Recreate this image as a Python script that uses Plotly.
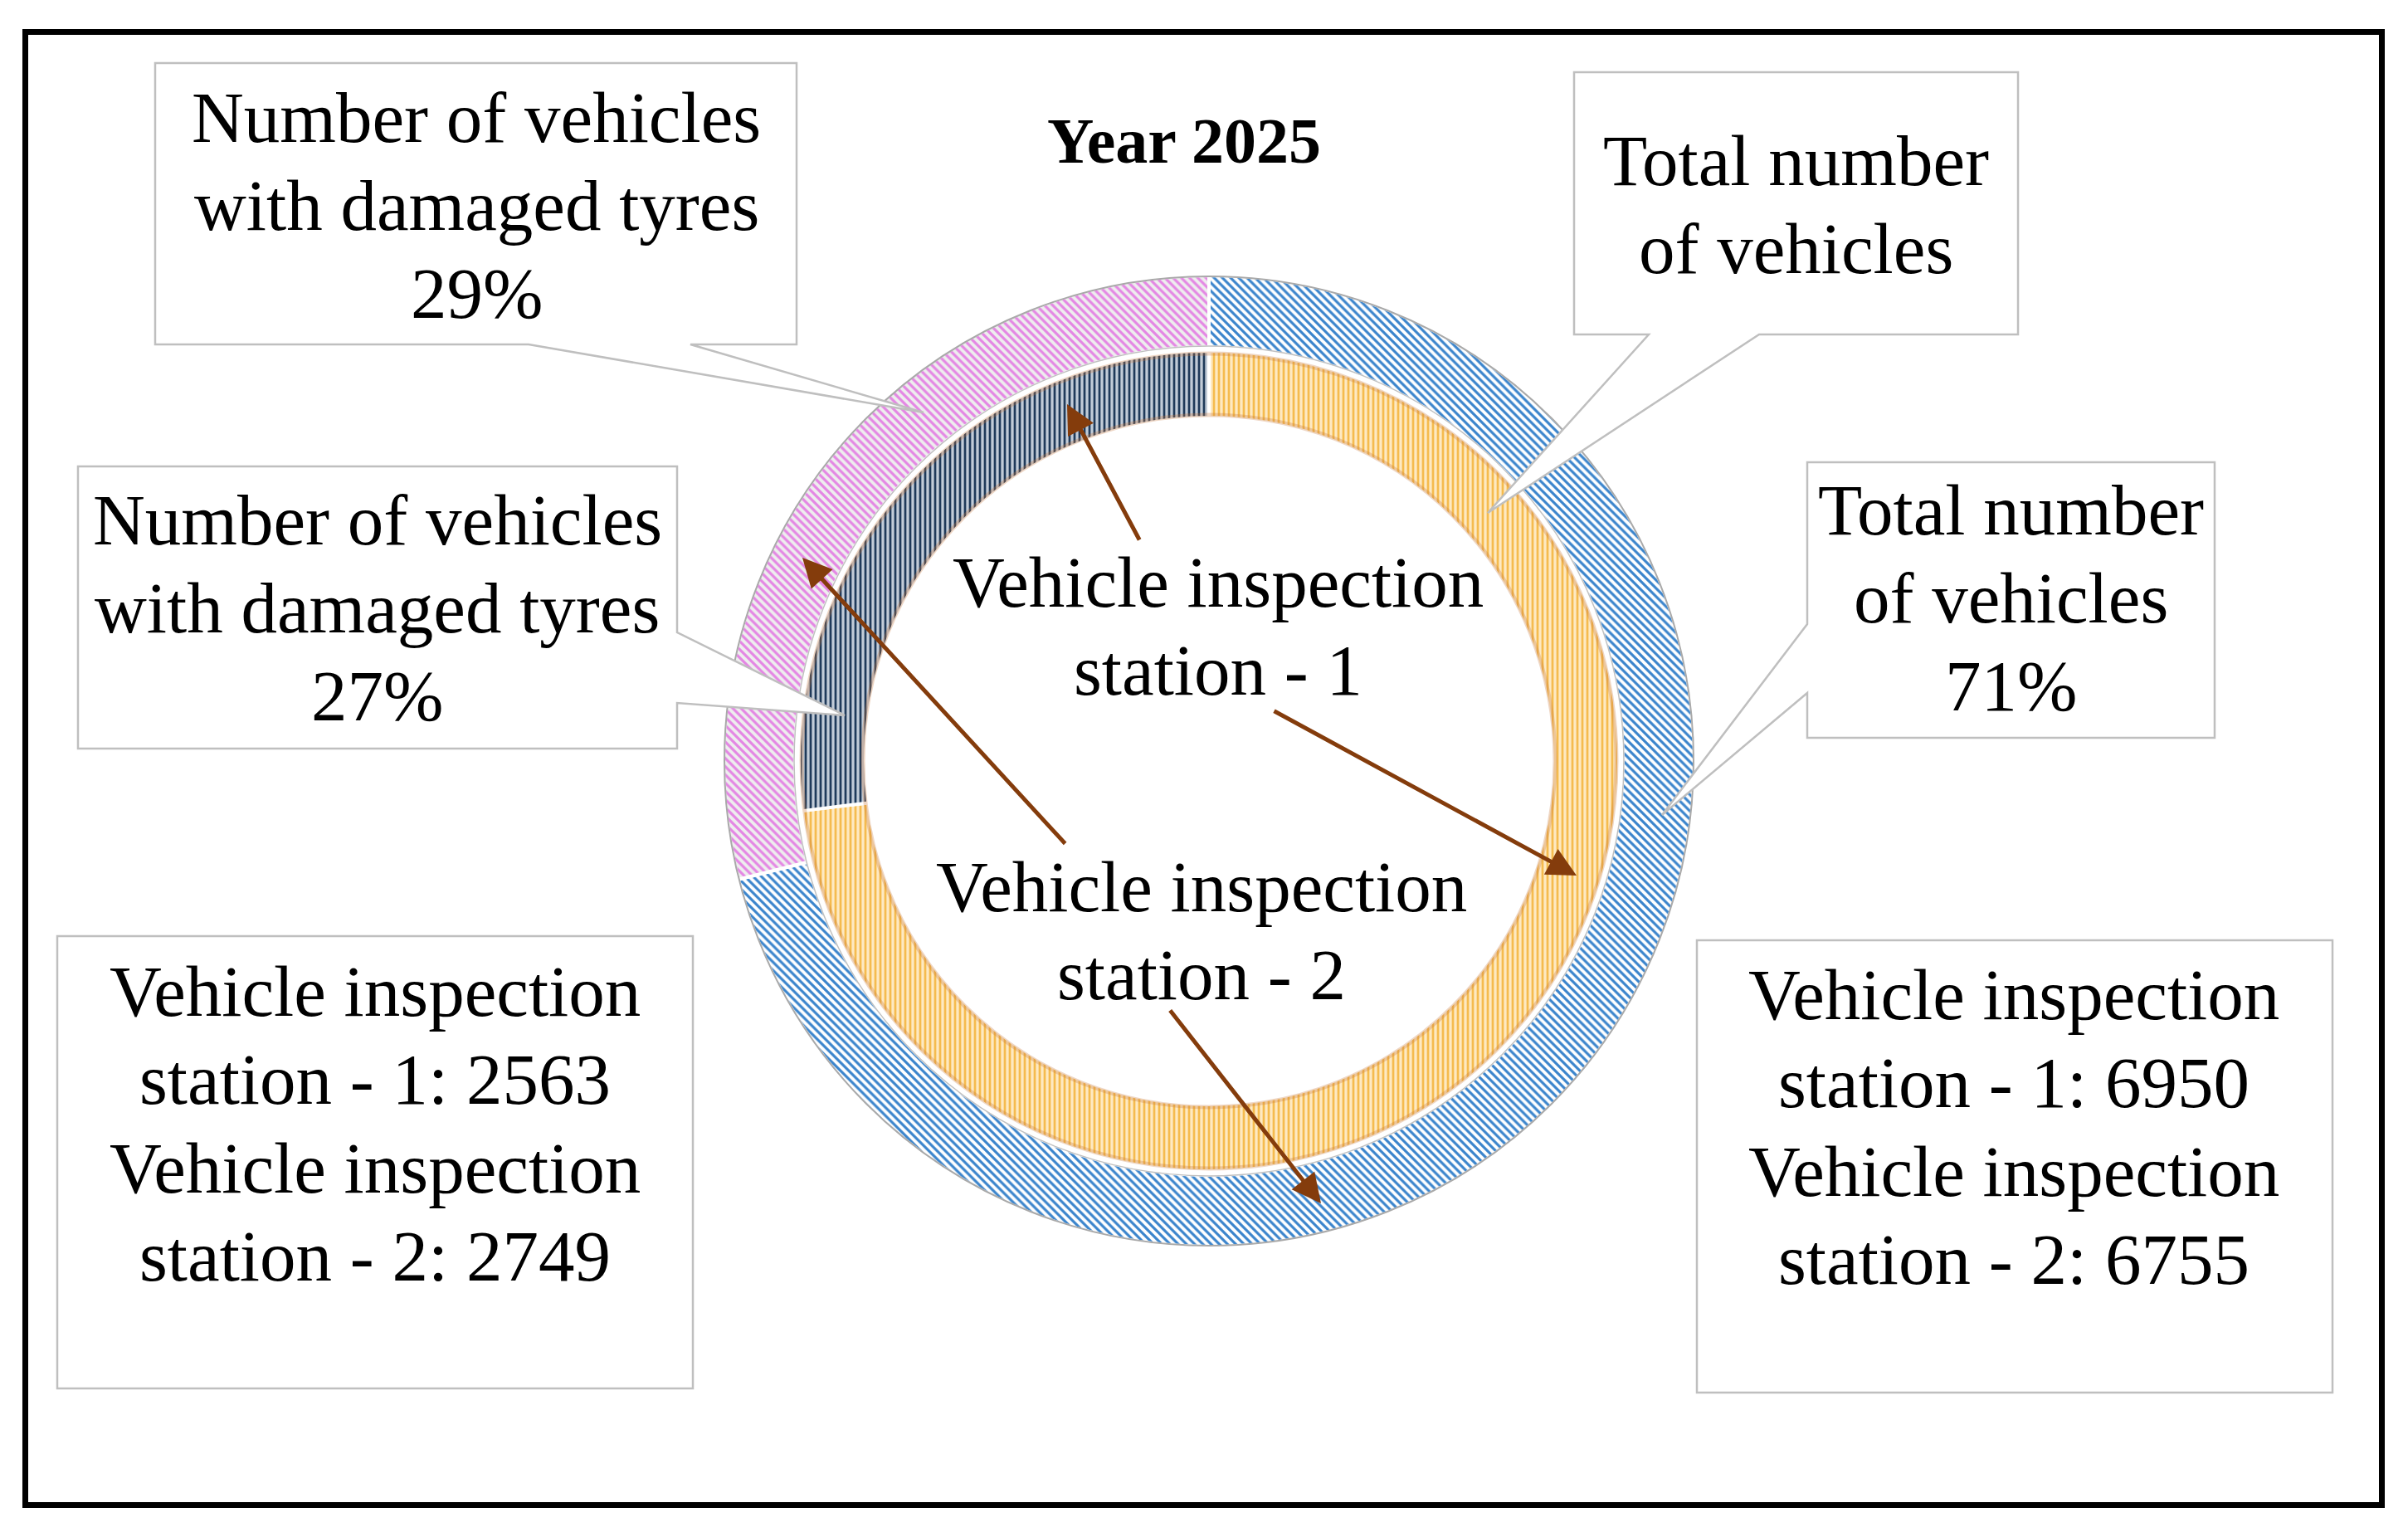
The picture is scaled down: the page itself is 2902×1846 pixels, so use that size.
import plotly.graph_objects as go

# ---------------- data ----------------
stations = ["Vehicle inspection station - 1", "Vehicle inspection station - 2"]
categories = ["Total number of vehicles", "Number of vehicles with damaged tyres"]
total_vehicles = [6950, 6755]
damaged_vehicles = [2563, 2749]
title_text = "Year 2025"

W, H = 2902, 1846
OFF = 8  # default page margin of the html body
FONT = "Liberation Serif"
FS = 87


def px(x):
    return (x - OFF) / W


def py(y):
    return 1 - (y - OFF) / H


def pct(a, b):
    return round(100 * a / (a + b))


fig = go.Figure()

# ring geometry (pixels)
CX, CY = 1457, 917
R_OUT, R_OUT_IN = 585, 499
R_IN, R_IN_IN = 494, 414

# outer ring: station 2
fig.add_trace(go.Pie(
    labels=categories,
    values=[total_vehicles[1], damaged_vehicles[1]],
    name=stations[1],
    sort=False, direction="clockwise", rotation=0,
    hole=R_OUT_IN / R_OUT,
    textinfo="none", hoverinfo="label+value+percent",
    domain=dict(x=[px(CX - R_OUT), px(CX + R_OUT)], y=[py(CY + R_OUT), py(CY - R_OUT)]),
    marker=dict(
        colors=["#ffffff", "#f2f2f2"],
        line=dict(color="white", width=4),
        pattern=dict(shape=["\\", "\\"], fgcolor=["#3a84cc", "#e486e4"],
                     bgcolor=["#ffffff", "#eeeeee"], size=7, solidity=0.45,
                     fillmode="replace"),
    ),
    showlegend=False,
))

# inner ring: station 1
fig.add_trace(go.Pie(
    labels=categories,
    values=[total_vehicles[0], damaged_vehicles[0]],
    name=stations[0],
    sort=False, direction="clockwise", rotation=0,
    hole=R_IN_IN / R_IN,
    textinfo="none", hoverinfo="label+value+percent",
    domain=dict(x=[px(CX - R_IN), px(CX + R_IN)], y=[py(CY + R_IN), py(CY - R_IN)]),
    marker=dict(
        colors=["#fde6b8", "#b6c2d0"],
        line=dict(color="white", width=4),
        pattern=dict(shape=["|", "|"], fgcolor=["#f5bb4e", "#1f3a5a"],
                     bgcolor=["#fee9c2", "#c2ccd8"], size=6, solidity=0.45,
                     fillmode="replace"),
    ),
    showlegend=False,
))

shapes = []


def circle(r, color, width):
    shapes.append(dict(type="circle", xref="paper", yref="paper",
                       x0=px(CX - r), x1=px(CX + r), y0=py(CY + r), y1=py(CY - r),
                       line=dict(color=color, width=width), layer="above"))


# soft edges of the rings
circle(R_OUT - 1, "#a9a9a9", 2)
circle(R_OUT_IN + 1, "rgba(150,150,150,0.6)", 1.5)
circle(R_IN - 3, "rgba(200,120,60,0.3)", 5)
circle(R_IN_IN + 3, "rgba(200,120,60,0.3)", 5)


def poly(points):
    path = "M " + " L ".join(f"{px(x):.5f},{py(y):.5f}" for x, y in points) + " Z"
    shapes.append(dict(type="path", xref="paper", yref="paper", path=path,
                       fillcolor="white", line=dict(color="#bfbfbf", width=2.5),
                       layer="above"))


# callout boxes
poly([(187, 76), (960, 76), (960, 415), (832, 415), (1113, 497), (637, 415), (187, 415)])
poly([(94, 562), (816, 562), (816, 762), (1018, 862), (816, 847), (816, 902), (94, 902)])
poly([(1897, 87), (2432, 87), (2432, 403), (2120, 403), (1793, 618), (1987, 403), (1897, 403)])
poly([(2178, 557), (2669, 557), (2669, 889), (2178, 889), (2178, 835), (2003, 982), (2178, 752)])
poly([(69, 1128), (835, 1128), (835, 1673), (69, 1673)])
poly([(2045, 1133), (2811, 1133), (2811, 1678), (2045, 1678)])

# outer frame
shapes.append(dict(type="rect", xref="paper", yref="paper",
                   x0=px(30.5), x1=px(2870.5), y0=py(1813.5), y1=py(38.5),
                   line=dict(color="black", width=7), layer="above"))

annotations = []


def text_lines(cx, baselines, lines, size=FS, bold=False):
    for b, t in zip(baselines, lines):
        annotations.append(dict(
            x=px(cx), y=py(b - 0.3375 * size), xref="paper", yref="paper",
            text=f"<b>{t}</b>" if bold else t, showarrow=False,
            xanchor="center", yanchor="middle",
            font=dict(family=FONT, size=size, color="black")))


p_dam_2 = pct(damaged_vehicles[1], total_vehicles[1])
p_dam_1 = pct(damaged_vehicles[0], total_vehicles[0])
p_tot_2 = pct(total_vehicles[1], damaged_vehicles[1])

text_lines(1427, [196], [title_text], size=78, bold=True)
text_lines(574, [171, 277, 383], ["Number of vehicles", "with damaged tyres", f"{p_dam_2}%"])
text_lines(455, [656, 762, 868], ["Number of vehicles", "with damaged tyres", f"{p_dam_1}%"])
text_lines(2164, [223, 329], ["Total number", "of vehicles"])
text_lines(2423, [644, 750, 856], ["Total number", "of vehicles", f"{p_tot_2}%"])
text_lines(452, [1224, 1330, 1437, 1543],
           ["Vehicle inspection", f"station - 1: {damaged_vehicles[0]}",
            "Vehicle inspection", f"station - 2: {damaged_vehicles[1]}"])
text_lines(2427, [1228, 1334, 1441, 1547],
           ["Vehicle inspection", f"station - 1: {total_vehicles[0]}",
            "Vehicle inspection", f"station - 2: {total_vehicles[1]}"])
text_lines(1468, [731, 837], ["Vehicle inspection", "station - 1"])
text_lines(1448, [1098, 1204], ["Vehicle inspection", "station - 2"])


def arrow(tail, tip):
    annotations.append(dict(
        x=px(tip[0]), y=py(tip[1]), xref="paper", yref="paper",
        ax=tail[0] - tip[0], ay=tail[1] - tip[1], axref="pixel", ayref="pixel",
        text="", showarrow=True, arrowhead=2, arrowsize=1.4, arrowwidth=5,
        arrowcolor="#843c0c", standoff=0, startstandoff=0))


arrow((1374, 652), (1286, 487))
arrow((1534, 856), (1900, 1055))
arrow((1285, 1018), (967, 672))
arrow((1409, 1216), (1592, 1450))

fig.update_layout(
    width=W, height=H,
    margin=dict(l=0, r=0, t=0, b=0),
    paper_bgcolor="white", plot_bgcolor="white",
    shapes=shapes, annotations=annotations,
    showlegend=False,
)

fig.write_html("out.html")
